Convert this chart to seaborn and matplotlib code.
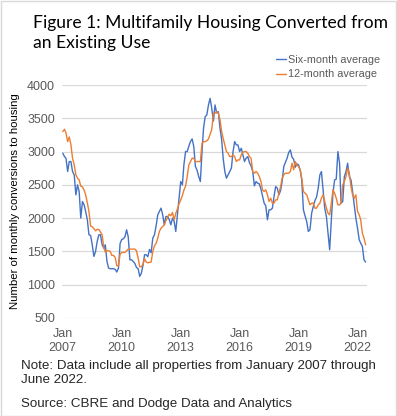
import pandas as pd
import matplotlib
matplotlib.use("Agg")
import matplotlib.pyplot as plt
import matplotlib.patches as mpatches
import seaborn as sns

# Monthly values, Jan 2007 - Jun 2022
start_month = "2007-01-01"

six_month = [
    2975, 2925, 2900, 2700, 2850, 2850, 2700, 2650, 2350, 2500, 2400, 2000,
    2250, 2200, 2100, 1975, 1750, 1740, 1600, 1425, 1500, 1650, 1750, 1750,
    1600, 1550, 1600, 1350, 1250, 1240, 1240, 1240, 1230, 1190, 1250, 1620,
    1680, 1690, 1720, 1825, 1720, 1375, 1375, 1350, 1320, 1260, 1240, 1125,
    1175, 1300, 1450, 1450, 1420, 1530, 1480, 1700, 1750, 1880, 2050, 2100,
    2150, 2050, 1900, 2025, 2025, 1980, 1900, 2000, 1950, 1800, 2050, 2300,
    2550, 2500, 2800, 3000, 3000, 3080, 3150, 3190, 3075, 2775, 2720, 2625,
    2550, 3000, 3350, 3525, 3550, 3700, 3800, 3650, 3460, 3700, 3580, 3600,
    3350, 3180, 2900, 2700, 2600, 2650, 2700, 2750, 3000, 3150, 3100, 3100,
    3000, 3050, 2950, 2850, 2900, 2925, 2835, 2785, 2700, 2485, 2550, 2525,
    2515, 2435, 2335, 2225, 2185, 1975, 2125, 2125, 2150, 2325, 2475, 2450,
    2350, 2415, 2550, 2775, 2835, 2900, 2985, 3025, 2915, 2885, 2765, 2815,
    2800, 2715, 2575, 2125, 2035, 1950, 1800, 1825, 2075, 2175, 2265, 2315,
    2450, 2650, 2700, 2425, 2150, 2025, 1775, 1525, 1975, 2375, 2575, 2585,
    3000, 2825, 2225, 2250, 2625, 2700, 2825, 2625, 2575, 2400, 2200, 2000,
    1850, 1675, 1625, 1575, 1375, 1340,
]

twelve_month = [
    3300, 3335, 3280, 3150, 3220, 3100, 2900, 2800, 2650, 2600, 2575, 2480,
    2470, 2420, 2350, 2230, 2100, 1880, 1870, 1840, 1810, 1830, 1830, 1790,
    1750, 1560, 1490, 1510, 1510, 1500, 1440, 1440, 1410, 1285, 1285, 1460,
    1485, 1485, 1485, 1510, 1535, 1535, 1535, 1535, 1535, 1510, 1400, 1270,
    1270, 1310, 1390, 1340, 1330, 1335, 1340, 1500, 1585, 1620, 1700, 1800,
    1850, 1875, 1895, 1965, 2005, 2060, 2035, 2085, 1975, 2070, 2140, 2215,
    2275, 2340, 2420, 2480, 2620, 2800, 2850, 2900, 2900, 2850, 2850, 2850,
    2850, 3125, 3150, 3150, 3160, 3190, 3260, 3330, 3575, 3575, 3600, 3575,
    3480, 3300, 3200, 3100, 3000, 2975, 2925, 2925, 2950, 2925, 2850, 2875,
    2875, 2950, 2990, 3000, 3000, 2975, 2925, 2900, 2700, 2675, 2700, 2675,
    2625, 2550, 2425, 2400, 2425, 2350, 2250, 2300, 2225, 2225, 2275, 2275,
    2375, 2475, 2600, 2650, 2675, 2675, 2675, 2700, 2825, 2725, 2850, 2800,
    2775, 2725, 2600, 2400, 2375, 2350, 2275, 2200, 2225, 2225, 2150, 2150,
    2200, 2225, 2300, 2350, 2250, 2150, 2075, 2050, 2225, 2425, 2375, 2300,
    2200, 2200, 2225, 2500, 2550, 2625, 2750, 2675, 2475, 2350, 2300, 2350,
    2100, 2050, 1975, 1775, 1700, 1600,
]

tick_years = [2007, 2010, 2013, 2016, 2019, 2022]
series_names = ["Six-month average", "12-month average"]
colors = ["#4472C4", "#ED7D31"]

months = pd.date_range(start_month, periods=len(six_month), freq="MS")
df = pd.DataFrame({"month": months, series_names[0]: six_month, series_names[1]: twelve_month})
long_df = df.melt(id_vars="month", var_name="series", value_name="conversions")

sns.set_style("white")
plt.rcParams["font.family"] = ["Liberation Sans", "DejaVu Sans"]

W, H = 397, 416
fig = plt.figure(figsize=(W / 100, H / 100), dpi=100)
ax = fig.add_axes([62 / W, (H - 318) / H, (367 - 62) / W, (318 - 85) / H])

sns.lineplot(data=long_df, x="month", y="conversions", hue="series",
             palette=colors, linewidth=1.0, ax=ax, legend=False)

ax.set_ylim(500, 4000)
ax.set_yticks(range(500, 4001, 500))
ax.set_xlim(months[0] - pd.Timedelta(days=15), months[-1] + pd.Timedelta(days=25))
ticks = [pd.Timestamp(f"{y}-01-01") for y in tick_years]
ax.set_xticks(ticks)
ax.set_xticklabels([f"Jan\n{y}" for y in tick_years])
ax.tick_params(axis="both", length=0, labelsize=9, colors="#595959")
ax.tick_params(axis="x", pad=7)
ax.tick_params(axis="y", pad=5)
ax.yaxis.grid(True, color="#D9D9D9", linewidth=0.9)
ax.xaxis.grid(False)
for s in ax.spines.values():
    s.set_visible(False)
ax.set_xlabel("")
ax.set_ylabel("Number of monthly conversions to housing", fontsize=8.2, color="black", labelpad=5)

# legend
handles = [plt.Line2D([], [], color=c, lw=1.0) for c in colors]
fig.legend(handles, series_names, loc="upper left", bbox_to_anchor=(276 / W, 1 - 55 / H),
           frameon=False, fontsize=7.8, handlelength=0.9, handletextpad=0.2,
           labelspacing=0.4, labelcolor="#595959", borderaxespad=0, borderpad=0)

# title and notes
fig.text(33 / W, 1 - 15 / H, "Figure 1: Multifamily Housing Converted from\nan Existing Use",
         fontsize=12.6, family=["Lato", "DejaVu Sans"], va="top", ha="left",
         linespacing=1.3, color="black")
fig.text(21 / W, 1 - 360 / H,
         "Note: Data include all properties from January 2007 through\nJune 2022.",
         fontsize=9.6, va="top", ha="left", linespacing=1.25)
fig.text(21 / W, 1 - 398 / H, "Source: CBRE and Dodge Data and Analytics",
         fontsize=9.6, va="top", ha="left")

fig.patches.append(mpatches.Rectangle((0.5 / W, 0.5 / H), 1 - 1.5 / W, 1 - 1.5 / H,
                                      transform=fig.transFigure, fill=False,
                                      edgecolor="#D9D9D9", linewidth=1))

fig.savefig("out.png", dpi=100)
